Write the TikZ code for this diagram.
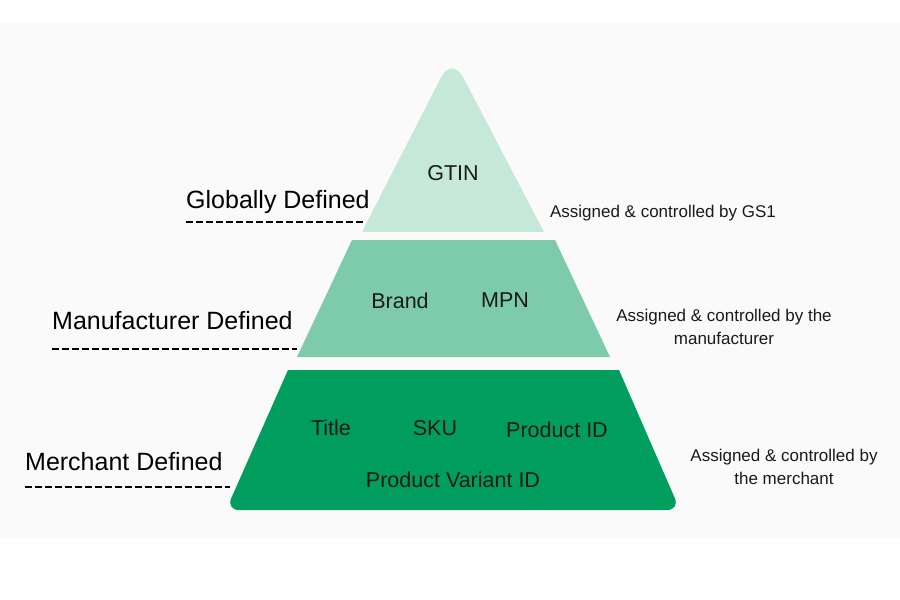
\documentclass[tikz,border=0pt]{standalone}
\usepackage{fontspec}
\setmainfont{Liberation Sans}
\usetikzlibrary{positioning,calc}

\definecolor{bgband}{HTML}{FAFAFA}
\definecolor{tiertop}{HTML}{C6E8D8}
\definecolor{tiermid}{HTML}{7ECBAC}
\definecolor{tierlow}{HTML}{009E5E}
\definecolor{inktext}{HTML}{1A1A1A}

\tikzset{
  tiertext/.style={text=inktext, font=\fontsize{21.5}{25}\selectfont, inner sep=0pt},
  levellabel/.style={text=black, font=\fontsize{25}{29}\selectfont, anchor=base west, inner sep=0pt},
  sidenote/.style={text=inktext, font=\fontsize{17}{23.5}\selectfont, align=center, inner sep=0pt},
  underline/.style={line width=2, dash pattern={on 6.5pt off 3.5pt}}
}

\begin{document}
\begin{tikzpicture}[x=1pt,y=1pt,yscale=-1]
\useasboundingbox (0,0) rectangle (900,600);

%Shape: Rectangle (background band)
\fill [bgband] (0,23) rectangle (900,538);

%Shape: Triangle (top tier)
\fill [tiertop] (362,232) [rounded corners=24] -- (452,56) [sharp corners] -- (544,232) -- cycle;
%Shape: Trapezoid (middle tier)
\fill [tiermid] (297,357) -- (352,240) -- (555,240) -- (610,357) -- cycle;
%Shape: Trapezoid (bottom tier)
\fill [tierlow] (288,370) -- (619,370) [rounded corners=13] -- (680,510) -- (226,510) [sharp corners] -- cycle;

% Text Node
\node [tiertext] (gtin) at (453,173) {GTIN};
% Text Node
\node [tiertext] (brand) at (400,301) {Brand};
\node [tiertext] (mpn) at (505,300) {MPN};
% Text Node
\node [tiertext] (title) at (331,428) {Title};
\node [tiertext] (sku) at (435,428) {SKU};
\node [tiertext] (prodid) at (557,430) {Product ID};
\node [tiertext] (variantid) at (453,480) {Product Variant ID};

% Level labels
\node [levellabel] (globally) at (186,208) {Globally Defined};
\draw [underline] ([yshift=14pt]globally.base west) -- ++(180,0);
\node [levellabel] (manufacturer) at (52,329) {Manufacturer Defined};
\draw [underline] ([yshift=20pt]manufacturer.base west) -- ++(245,0);
\node [levellabel] (merchant) at (25,470) {Merchant Defined};
\draw [underline] ([yshift=17pt]merchant.base west) -- ++(205,0);

% Side notes
\node [sidenote] (gsnote) at (663,213) {Assigned \& controlled by GS1};
\node [sidenote] (mfnote) at (724,327) {Assigned \& controlled by the\\manufacturer};
\node [sidenote] (mcnote) at (784,467) {Assigned \& controlled by\\the merchant};

\end{tikzpicture}
\end{document}
